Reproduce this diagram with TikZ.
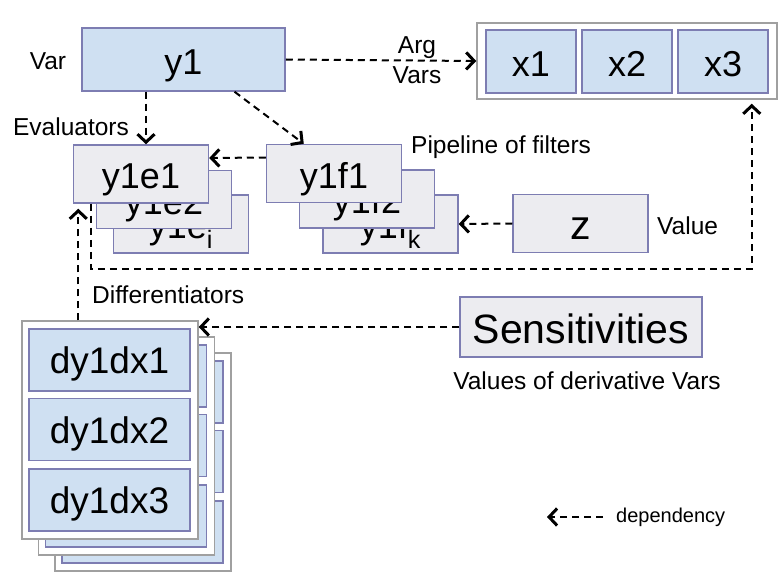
\documentclass[tikz,border=0pt]{standalone}
\usepackage{fontspec}
\setmainfont{Liberation Sans}
\usetikzlibrary{positioning,calc,arrows.meta}
\definecolor{boxBlue}{RGB}{207,224,242}
\definecolor{boxGray}{RGB}{236,236,240}
\definecolor{boxEdge}{RGB}{125,125,178}
\definecolor{grpEdge}{RGB}{160,160,160}

\begin{document}
\begin{tikzpicture}[
    x=1pt, y=-1pt,
    bx/.style={draw=boxEdge, line width=1.5pt, inner sep=0pt, text depth=0pt,
      minimum width=135pt, minimum height=58pt},
    vbox/.style={bx, fill=boxBlue},
    fbox/.style={bx, fill=boxGray},
    grp/.style={draw=grpEdge, fill=white, line width=1.5pt, inner sep=0pt},
    dep/.style={-{Straight Barb[length=8pt,width=17pt,line width=3pt]}, dash pattern=on 7pt off 5pt, line width=2pt},
    lbl/.style={font=\fontsize{24.5}{28}\selectfont, inner sep=1pt},
    big/.style={font=\fontsize{36}{38}\selectfont, text height=29.5pt},
    huge/.style={font=\fontsize{41}{44}\selectfont, text height=33pt},
]
\useasboundingbox (0,0) rectangle (778,577);

% the Var and its argument Vars
\node[vbox, big, minimum width=203pt, minimum height=63pt] (y1) at (183.5,59.5) {y1};
\node[lbl] (varL) at (48,61) {Var};
\node[grp, minimum width=300pt, minimum height=76pt] (xgrp) at (627,61) {};
\foreach \i/\x in {1/531, 2/627, 3/723}
  \node[vbox, big, minimum width=90pt, minimum height=63pt] (x\i) at (\x,61.5) {x\i};

% evaluators
\node[fbox, big] (y1ei) at (181,224) {y1e\textsubscript{i}};
\node[fbox, big] (y1e2) at (164,199.5) {y1e2};
\node[fbox, big] (y1e1) at (141,174) {y1e1};

% pipeline of filters
\node[fbox, big] (y1fk) at (390.5,224) {y1f\textsubscript{k}};
\node[fbox, big] (y1f2) at (367,199) {y1f2};
\node[fbox, big] (y1f1) at (334,173.5) {y1f1};

\node[fbox, huge] (z) at (580.5,223.5) {z};
\node[fbox, huge, minimum width=242pt, minimum height=60pt] (sens) at (581,327) {Sensitivities};

% differentiators, stacked copies (only the front one is readable)
\foreach \k in {2,1,0} {
  \begin{scope}[shift={(16.5*\k,16*\k)}]
    \node[grp, minimum width=176pt, minimum height=218pt] (dgrp\k) at (110,430) {};
    \foreach \j/\y in {1/360, 2/429.5, 3/500}
      \node[vbox, minimum width=161pt, minimum height=62pt] (dy\k-\j) at (109.5,\y) {};
  \end{scope}
}
\foreach \j in {1,2,3}
  \node[font=\fontsize{37}{40}\selectfont, inner sep=0pt, text height=27pt, text depth=0pt] (dyT\j) at (dy0-\j) {dy1dx\j};

% labels
\node[lbl] (argL) at (417,48) {Arg};
\node[lbl] (varsL) at (417,75) {Vars};
\node[lbl] (evalL) at (71,127) {Evaluators};
\node[lbl, anchor=west] (pipeL) at (410,147) {Pipeline of filters};
\node[lbl, anchor=west] (valL) at (656,226) {Value};
\node[lbl, anchor=west] (diffL) at (91,295) {Differentiators};
\node[lbl] (sensL) at (587,381) {Values of derivative Vars};

% dependencies
\draw[dep] (y1.east) -- (xgrp.west);
\coordinate (eTop) at ([xshift=5pt]y1e1.north);
\draw[dep] (eTop |- y1.south) -- (eTop);
\draw[dep] ($(y1.south)+(51,0)$) -- ($(y1f1.north west)+(38,0)$);
\draw[dep] ([yshift=16pt]y1f1.west) -- ([yshift=16pt]y1e1.east);
\draw[dep] (z.west) -- (y1fk.east);
\coordinate (eOut) at ($(y1e1.south west)+(18,0)$);
\coordinate (xIn) at ($(xgrp.south east)+(-26,0)$);
\draw[dep, shorten >=4pt] (eOut) -- ++(0,65) -| (xIn);
\coordinate (dTop) at ($(dgrp0.north west)+(57,0)$);
\draw[dep, shorten >=5pt] (dTop) -- (dTop |- y1e1.south);
\draw[dep] (sens.west) -- (sens.west -| dgrp0.east);

% legend
\coordinate (legR) at (603,517);
\coordinate (legL) at (547,517);
\draw[dep] (legR) -- (legL);
\node[font=\fontsize{20}{24}\selectfont, inner sep=1pt, anchor=west] (legT) at (615,517) {dependency};
\end{tikzpicture}
\end{document}
